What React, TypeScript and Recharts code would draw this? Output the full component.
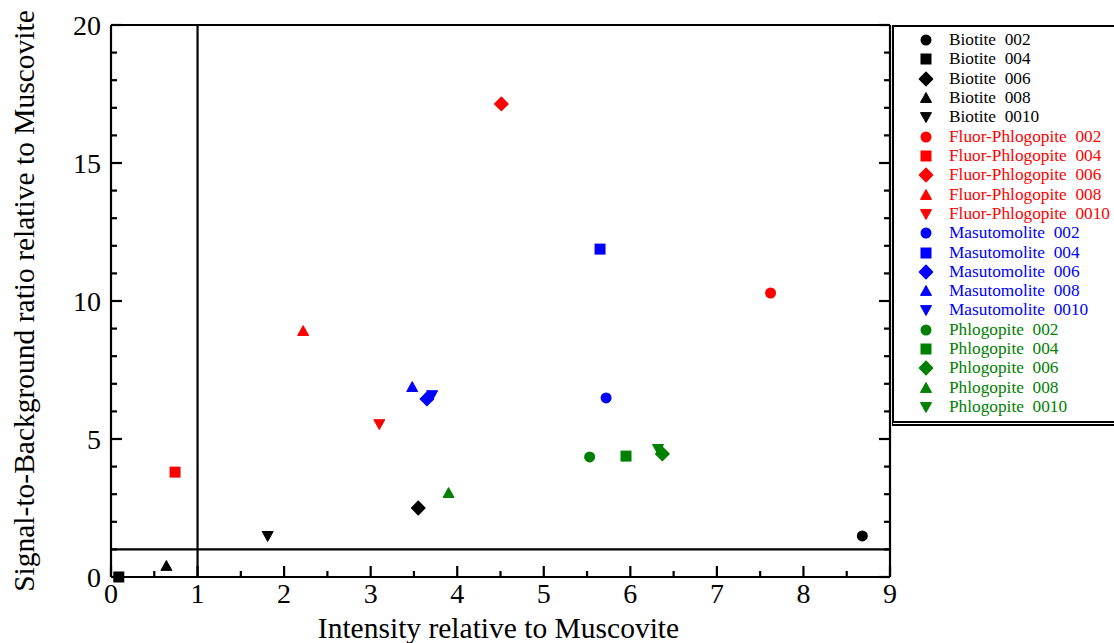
import React from 'react';
import { ScatterChart, Scatter, XAxis, YAxis, ReferenceLine, Legend } from 'recharts';

// ---------- data ----------
const minerals = ['Biotite', 'Fluor-Phlogopite', 'Masutomolite', 'Phlogopite'];
const mineralColors = ['#000000', '#ff0000', '#0000ff', '#008000'];
const reflections = ['002', '004', '006', '008', '0010'];
const markerShapes = ['circle', 'square', 'diamond', 'triangle', 'triangleDown'];

const biotiteX = [8.68, 0.09, 3.55, 0.64, 1.81];
const biotiteY = [1.49, 0.0, 2.5, 0.4, 1.49];
const fluorPhlogopiteX = [7.62, 0.74, 4.51, 2.22, 3.1];
const fluorPhlogopiteY = [10.29, 3.8, 17.14, 8.91, 5.54];
const masutomoliteX = [5.72, 5.65, 3.65, 3.48, 3.71];
const masutomoliteY = [6.49, 11.88, 6.45, 6.88, 6.59];
const phlogopiteX = [5.53, 5.95, 6.37, 3.9, 6.32];
const phlogopiteY = [4.35, 4.38, 4.46, 3.04, 4.64];

const seriesX = [biotiteX, fluorPhlogopiteX, masutomoliteX, phlogopiteX];
const seriesY = [biotiteY, fluorPhlogopiteY, masutomoliteY, phlogopiteY];

const xMajorTicks = [0, 1, 2, 3, 4, 5, 6, 7, 8, 9];
const xMinorTicks = [0.5, 1.5, 2.5, 3.5, 4.5, 5.5, 6.5, 7.5, 8.5];
const yMajorTicks = [0, 5, 10, 15, 20];
const yMinorTicks = [1, 2, 3, 4, 6, 7, 8, 9, 11, 12, 13, 14, 16, 17, 18, 19];
const xDomain = [0, 9];
const yDomain = [0, 20];
const referenceX = 1;
const referenceY = 1;

const xTitle = 'Intensity relative to Muscovite';
const yTitle = 'Signal-to-Background ratio relative to Muscovite';

// ---------- helpers ----------
const FONT = "'Liberation Serif', 'Times New Roman', serif";
const MAJOR_LEN = 11;
const MINOR_LEN = 6;

const xAllTicks = [...xMajorTicks, ...xMinorTicks].sort((a, b) => a - b);
const yAllTicks = [...yMajorTicks, ...yMinorTicks].sort((a, b) => a - b);

type MarkerProps = { cx: number; cy: number; shape: string; color: string; size: number };

function Marker({ cx, cy, shape, color, size }: MarkerProps) {
  const r = size / 2;
  if (cx == null || cy == null) return null;
  switch (shape) {
    case 'circle':
      return <circle cx={cx} cy={cy} r={r} fill={color} />;
    case 'square':
      return <rect x={cx - r} y={cy - r} width={size} height={size} fill={color} />;
    case 'diamond': {
      const d = r * 1.2;
      return (
        <polygon
          points={`${cx},${cy - d} ${cx + d},${cy} ${cx},${cy + d} ${cx - d},${cy}`}
          fill={color}
          stroke={color}
          strokeWidth={1.5}
          strokeLinejoin="round"
        />
      );
    }
    case 'triangle':
      return (
        <polygon
          points={`${cx},${cy - r} ${cx + r},${cy + r * 0.8} ${cx - r},${cy + r * 0.8}`}
          fill={color}
          stroke={color}
          strokeWidth={1}
          strokeLinejoin="round"
        />
      );
    case 'triangleDown':
    default:
      return (
        <polygon
          points={`${cx - r},${cy - r * 0.8} ${cx + r},${cy - r * 0.8} ${cx},${cy + r}`}
          fill={color}
          stroke={color}
          strokeWidth={1}
          strokeLinejoin="round"
        />
      );
  }
}

const seriesList = minerals.flatMap((m, mi) =>
  reflections.map((r, ri) => ({
    key: `${mi}-${ri}`,
    name: `${m}  ${r}`,
    color: mineralColors[mi],
    shape: markerShapes[ri],
    data: [{ x: seriesX[mi][ri], y: seriesY[mi][ri] }],
  }))
);

const LEGEND_LEFT = 892;
const LEGEND_TOP = 25;
const ROW_START = 15;
const ROW_STEP = 19.32;

function renderLegend() {
  return (
    <div
      style={{
        position: 'relative',
        width: 1114 - LEGEND_LEFT,
        height: 401,
        boxSizing: 'border-box',
        borderTop: '2px solid #000',
        borderLeft: '2px solid #000',
        borderBottom: '5px double #000',
        background: '#fff',
        fontFamily: FONT,
      }}
    >
      {seriesList.map((s, i) => {
        const cy = ROW_START + i * ROW_STEP - 2;
        return (
          <React.Fragment key={s.key}>
            <svg
              width={16}
              height={16}
              style={{ position: 'absolute', left: 33 - 8 - 1, top: cy - 8 }}
            >
              <Marker cx={8} cy={8} shape={s.shape} color={s.color} size={11} />
            </svg>
            <div
              style={{
                position: 'absolute',
                left: 56 - 1,
                top: cy - 10,
                height: 20,
                lineHeight: '20px',
                fontSize: 17.3,
                color: s.color,
                whiteSpace: 'pre',
              }}
            >
              {s.name}
            </div>
          </React.Fragment>
        );
      })}
    </div>
  );
}

const lineStyle = { stroke: '#000', strokeWidth: 2.2 };
const labelStyle = { fontFamily: FONT, fontSize: 28, fill: '#000' };
const titleStyle = { fontFamily: FONT, fontSize: 29.5, fill: '#000' };

function BottomTick(p: any) {
  const { x, y, payload } = p;
  const v = payload.value;
  const major = xMajorTicks.includes(v);
  return (
    <g>
      <line x1={x} x2={x} y1={y} y2={y - (major ? MAJOR_LEN : MINOR_LEN)} {...lineStyle} />
      {major && (
        <text x={x} y={y + 26} textAnchor="middle" style={labelStyle}>
          {v}
        </text>
      )}
    </g>
  );
}

function TopTick(p: any) {
  const { x, y, payload } = p;
  const major = xMajorTicks.includes(payload.value);
  return <line x1={x} x2={x} y1={y} y2={y + (major ? MAJOR_LEN : MINOR_LEN)} {...lineStyle} />;
}

function LeftTick(p: any) {
  const { x, y, payload } = p;
  const v = payload.value;
  const major = yMajorTicks.includes(v);
  return (
    <g>
      <line x1={x} x2={x + (major ? MAJOR_LEN : MINOR_LEN)} y1={y} y2={y} {...lineStyle} />
      {major && (
        <text x={x - 10} y={y + 9.5} textAnchor="end" style={labelStyle}>
          {v}
        </text>
      )}
    </g>
  );
}

function RightTick(p: any) {
  const { x, y, payload } = p;
  const major = yMajorTicks.includes(payload.value);
  return <line x1={x} x2={x - (major ? MAJOR_LEN : MINOR_LEN)} y1={y} y2={y} {...lineStyle} />;
}

export default function App() {
  return (
    <div
      style={{
        position: 'absolute',
        left: 0,
        top: 0,
        width: 1114,
        height: 643,
        overflow: 'hidden',
        background: '#fff',
      }}
    >
      <ScatterChart
        width={1114}
        height={643}
        margin={{ top: 24, right: 223, bottom: 65, left: 110 }}
      >
        <XAxis
          xAxisId="main"
          dataKey="x"
          type="number"
          domain={xDomain}
          ticks={xAllTicks}
          height={1}
          orientation="bottom"
          tickSize={0}
          tickMargin={0}
          axisLine={lineStyle}
          tickLine={false}
          tick={BottomTick}
          interval={0}
          label={{
            content: (p: any) => {
              const vb = p.viewBox || { x: 111, y: 577, width: 779, height: 1 };
              const cx = vb.x + vb.width / 2 - 2;
              const by = vb.y + 61;
              return (
                <text x={cx} y={by} textAnchor="middle" style={titleStyle}>
                  {xTitle}
                </text>
              );
            },
          }}
        />
        <XAxis
          xAxisId="top"
          type="number"
          domain={xDomain}
          ticks={xAllTicks}
          allowDataOverflow
          height={1}
          orientation="top"
          tickSize={0}
          tickMargin={0}
          axisLine={lineStyle}
          tickLine={false}
          tick={TopTick}
          interval={0}
        />
        <YAxis
          yAxisId="main"
          dataKey="y"
          type="number"
          domain={yDomain}
          ticks={yAllTicks}
          width={1}
          orientation="left"
          tickSize={0}
          tickMargin={0}
          axisLine={lineStyle}
          tickLine={false}
          tick={LeftTick}
          interval={0}
          label={{
            content: (p: any) => {
              const vb = p.viewBox || { x: 110, y: 25, width: 1, height: 552 };
              const cx = vb.x + vb.width - 87;
              const cy = vb.y + vb.height / 2;
              return (
                <text
                  x={cx}
                  y={cy}
                  transform={`rotate(-90, ${cx}, ${cy})`}
                  textAnchor="middle"
                  dominantBaseline="central"
                  style={titleStyle}
                >
                  {yTitle}
                </text>
              );
            },
          }}
        />
        <YAxis
          yAxisId="right"
          type="number"
          domain={yDomain}
          ticks={yAllTicks}
          allowDataOverflow
          width={1}
          orientation="right"
          tickSize={0}
          tickMargin={0}
          axisLine={lineStyle}
          tickLine={false}
          tick={RightTick}
          interval={0}
        />
        <ReferenceLine xAxisId="main" yAxisId="main" x={referenceX} stroke="#000" strokeWidth={2.2} />
        <ReferenceLine xAxisId="main" yAxisId="main" y={referenceY} stroke="#000" strokeWidth={2.2} />
        {seriesList.map((s) => (
          <Scatter
            key={s.key}
            name={s.name}
            data={s.data}
            xAxisId="main"
            yAxisId="main"
            fill={s.color}
            isAnimationActive={false}
            shape={(p: any) => <Marker cx={p.cx} cy={p.cy} shape={s.shape} color={s.color} size={11} />}
          />
        ))}
        <Legend
          layout="horizontal"
          verticalAlign="middle"
          align="center"
          wrapperStyle={{ left: LEGEND_LEFT, top: LEGEND_TOP, width: 1114 - LEGEND_LEFT, height: 401, margin: 0 }}
          content={renderLegend}
        />
      </ScatterChart>
    </div>
  );
}
